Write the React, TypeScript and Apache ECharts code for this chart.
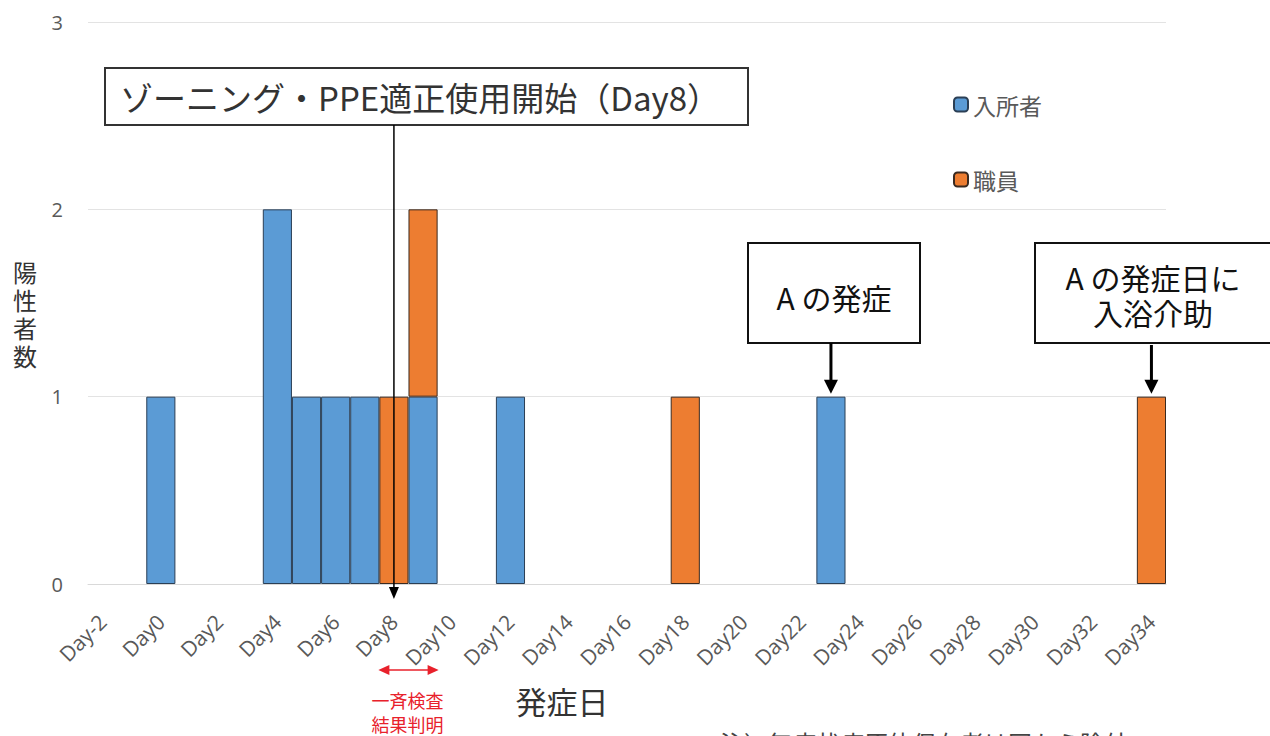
import React, { useEffect, useRef } from "react";
import * as echarts from "echarts";

const categories = [
  "Day-2", "Day-1", "Day0", "Day1", "Day2", "Day3", "Day4", "Day5", "Day6", "Day7",
  "Day8", "Day9", "Day10", "Day11", "Day12", "Day13", "Day14", "Day15", "Day16", "Day17",
  "Day18", "Day19", "Day20", "Day21", "Day22", "Day23", "Day24", "Day25", "Day26", "Day27",
  "Day28", "Day29", "Day30", "Day31", "Day32", "Day33", "Day34",
];

const residents = [
  null, null, 1, null, null, null, 2, 1, 1, 1,
  null, 1, null, null, 1, null, null, null, null, null,
  null, null, null, null, null, 1, null, null, null, null,
  null, null, null, null, null, null, null,
];

const staff = [
  null, null, null, null, null, null, null, null, null, null,
  1, 1, null, null, null, null, null, null, null, null,
  1, null, null, null, null, null, null, null, null, null,
  null, null, null, null, null, null, 1,
];

const yTicks = [0, 1, 2, 3];
const seriesNames = ["入所者", "職員"];
const yAxisNameChars = ["陽", "性", "者", "数"];

const FONT = "'Noto Sans CJK JP', 'Noto Sans', sans-serif";
const LATIN = "'Open Sans', 'Noto Sans', sans-serif";
const BLUE = "#5B9BD5";
const ORANGE = "#ED7D31";

export default function App() {
  const ref = useRef<HTMLDivElement>(null);
  useEffect(() => {
    if (!ref.current) return;
    const chart = echarts.init(ref.current, null, { renderer: "svg" });
    chart.setOption({
      animation: false,
      backgroundColor: "#ffffff",
      textStyle: { fontFamily: FONT },
      grid: { left: 88, right: 104, top: 22, bottom: 152 },
      legend: {
        orient: "vertical",
        left: 948,
        top: 88,
        itemWidth: 14,
        itemHeight: 14,
        itemGap: 52,
        textStyle: { fontSize: 23, color: "#595959", fontFamily: FONT },
        data: seriesNames,
      },
      xAxis: {
        type: "category",
        data: categories,
        axisTick: { show: false },
        axisLine: { lineStyle: { color: "#d9d9d9", width: 1 } },
        axisLabel: {
          interval: 1,
          rotate: 45,
          fontSize: 21,
          color: "#595959",
          margin: 34,
          fontFamily: LATIN,
        },
      },
      yAxis: {
        type: "value",
        min: yTicks[0],
        max: yTicks[yTicks.length - 1],
        interval: 1,
        axisLine: { show: false },
        axisTick: { show: false },
        splitLine: { lineStyle: { color: "#e3e3e3", width: 1 } },
        axisLabel: {
          fontSize: 20,
          color: "#595959",
          margin: 25,
          fontFamily: LATIN,
        },
      },
      series: [
        {
          name: seriesNames[0],
          type: "bar",
          stack: "total",
          data: residents,
          barCategoryGap: "0%",
          itemStyle: { color: BLUE, borderColor: "#2b3f55", borderWidth: 1 },
        },
        {
          name: seriesNames[1],
          type: "bar",
          stack: "total",
          data: staff,
          barCategoryGap: "0%",
          itemStyle: { color: ORANGE, borderColor: "#3a2a20", borderWidth: 1 },
        },
      ],
    });

    const px = (c: string) => chart.convertToPixel({ xAxisIndex: 0 }, c) as number;
    const py = (v: number) => chart.convertToPixel({ yAxisIndex: 0 }, v) as number;
    const x8 = px("Day8");
    const x9 = px("Day9");
    const x23 = px("Day23");
    const x34 = px("Day34");
    const y0 = py(0);
    const y1 = py(1);
    const band = px("Day1") - px("Day0");

    const arrowDown = (x: number, yFrom: number, yTip: number, w: number, lw: number) => [
      { type: "line", shape: { x1: x, y1: yFrom, x2: x, y2: yTip - 12 }, style: { stroke: "#000", lineWidth: lw } },
      {
        type: "polygon",
        shape: { points: [[x - w / 2, yTip - 14], [x + w / 2, yTip - 14], [x, yTip]] },
        style: { fill: "#000" },
      },
    ];

    chart.setOption({
      graphic: [
        // y-axis name, one character per line
        ...yAxisNameChars.map((ch, i) => ({
          type: "text",
          x: 25,
          y: 271 + i * 28,
          style: {
            text: ch,
            font: `24px ${FONT}`,
            fill: "#333",
            align: "center",
            verticalAlign: "middle",
            lineHeight: 26,
          },
        })),
        // x-axis name
        {
          type: "text",
          x: 562,
          y: 700,
          style: {
            text: "発症日",
            font: `31px ${FONT}`,
            fill: "#333",
            align: "center",
            verticalAlign: "middle",
          },
        },
        // box 1
        {
          type: "rect",
          shape: { x: 105, y: 68, width: 643, height: 57 },
          style: { fill: "#fff", stroke: "#333", lineWidth: 2 },
          z: 10,
        },
        {
          type: "text",
          x: 120,
          y: 97,
          z: 11,
          style: {
            text: "ゾーニング・PPE適正使用開始（Day8）",
            font: `33px ${FONT}`,
            fill: "#333",
            verticalAlign: "middle",
          },
        },
        {
          type: "line",
          z: 12,
          shape: { x1: x8, y1: 125, x2: x8, y2: y0 + 4 },
          style: { stroke: "#000", lineWidth: 1.5 },
        },
        {
          type: "polygon",
          z: 12,
          shape: { points: [[x8 - 5, y0 + 3], [x8 + 5, y0 + 3], [x8, y0 + 15]] },
          style: { fill: "#000" },
        },
        // box 2
        {
          type: "rect",
          shape: { x: 748, y: 243, width: 172, height: 100 },
          style: { fill: "#fff", stroke: "#111", lineWidth: 2 },
        },
        {
          type: "text",
          x: 834,
          y: 297,
          style: {
            text: "A の発症",
            font: `30px ${FONT}`,
            fill: "#111",
            align: "center",
            verticalAlign: "middle",
          },
        },
        ...arrowDown(x23, 343, y1 - 3, 14, 3),
        // box 3
        {
          type: "rect",
          shape: { x: 1035, y: 243, width: 240, height: 100 },
          style: { fill: "#fff", stroke: "#111", lineWidth: 2 },
        },
        {
          type: "text",
          x: 1153,
          y: 277,
          style: {
            text: "A の発症日に",
            font: `30px ${FONT}`,
            fill: "#111",
            align: "center",
            verticalAlign: "middle",
            lineHeight: 32,
          },
        },
        {
          type: "text",
          x: 1153,
          y: 312,
          style: {
            text: "入浴介助",
            font: `30px ${FONT}`,
            fill: "#111",
            align: "center",
            verticalAlign: "middle",
            lineHeight: 32,
          },
        },
        ...arrowDown(x34, 345, y1 - 3, 14, 3),
        // red double arrow
        {
          type: "line",
          shape: { x1: x8 - band / 2 + 8, y1: 670, x2: x9 + band / 2 - 8, y2: 670 },
          style: { stroke: "#e8212b", lineWidth: 1.5 },
        },
        {
          type: "polygon",
          shape: {
            points: [
              [x8 - band / 2 - 1, 670],
              [x8 - band / 2 + 10, 665],
              [x8 - band / 2 + 10, 675],
            ],
          },
          style: { fill: "#e8212b" },
        },
        {
          type: "polygon",
          shape: {
            points: [
              [x9 + band / 2 + 1, 670],
              [x9 + band / 2 - 10, 665],
              [x9 + band / 2 - 10, 675],
            ],
          },
          style: { fill: "#e8212b" },
        },
        {
          type: "text",
          x: (x8 + x9) / 2 - 1,
          y: 700,
          style: {
            text: "一斉検査",
            font: `18px ${FONT}`,
            fill: "#e8212b",
            align: "center",
            verticalAlign: "middle",
          },
        },
        {
          type: "text",
          x: (x8 + x9) / 2 - 1,
          y: 724,
          style: {
            text: "結果判明",
            font: `18px ${FONT}`,
            fill: "#e8212b",
            align: "center",
            verticalAlign: "middle",
          },
        },
        // bottom note (cut off by the image edge, as in the reference)
        {
          type: "text",
          x: 720,
          y: 730,
          style: {
            text: "注）無症状病原体保有者は図から除外",
            font: `24px ${FONT}`,
            fill: "#444",
            verticalAlign: "top",
          },
        },
      ],
    });

    return () => chart.dispose();
  }, []);

  return (
    <div
      ref={ref}
      style={{ position: "fixed", left: 0, top: 0, width: 1270, height: 736, background: "#fff" }}
    />
  );
}
